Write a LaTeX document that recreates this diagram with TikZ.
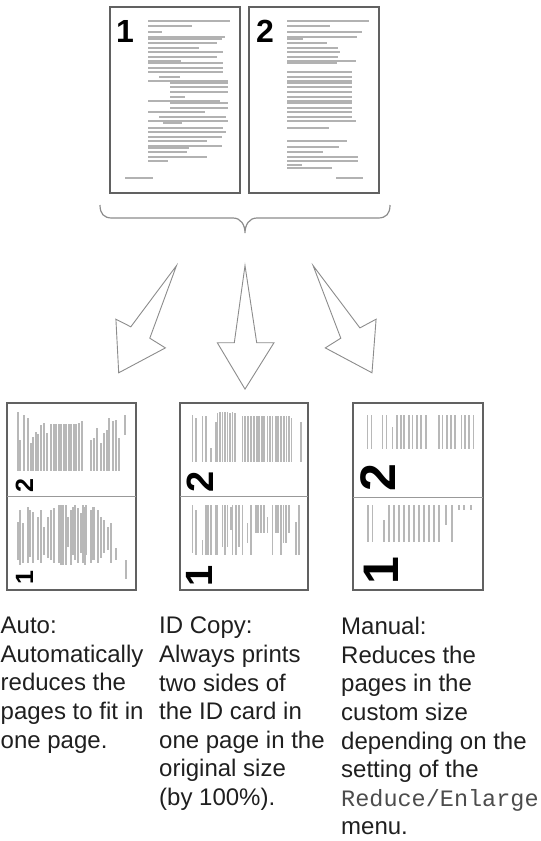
\documentclass[tikz,border=0pt]{standalone}
\usepackage{fontspec}
\setmainfont{Liberation Sans}
\setmonofont{Liberation Mono}
\begin{document}
\begin{tikzpicture}[
  x=1pt,y=-1pt,
  sheet/.style={draw=black!62,line width=1.8pt,fill=white},
  txtline/.style={black!30,line width=1.4pt},
  bar/.style={fill=black!28},
  flow/.style={draw=black!45,line width=0.9pt,fill=white,line join=miter},
  brace/.style={draw=black!45,line width=1.2pt},
  digit/.style={inner sep=0pt,anchor=base west,font=\bfseries},
  caption/.style={inner sep=0pt,anchor=north west,align=left,text=black!88,
    font=\fontsize{24}{28.6}\selectfont}
]
  \useasboundingbox (0,0) rectangle (541,841);

  % the two originals
  \draw[sheet] (110,7) rectangle (240,193);
  \draw[sheet] (249,7) rectangle (379,193);
  \node[digit,font=\fontsize{32}{32}\bfseries\selectfont] (one) at (116,42) {1};
  \node[digit,font=\fontsize{32}{32}\bfseries\selectfont] (two) at (256,42) {2};
  \foreach \y/\a/\b in {21/148/230,26/148/192,32/148/162,37/148/225,39/148/222,
    43/148/217,48/148/199,52/148/223,57/148/217,61/148/181,63/148/223,68/148/223,
    72/148/223,77/159/180,81/148/228,83/170/228,87/170/228,92/170/228,97/170/185,
    101/148/220,103/170/228,108/170/228,112/148/205,117/159/226,121/148/228,
    123/163/182,128/148/223,132/148/226,137/148/222,141/148/207,146/148/222,
    148/148/189,152/148/187,157/148/207,161/148/168,178/125/153}
    \draw[txtline] (\a,\y) -- (\b,\y);
  \foreach \y/\a/\b in {21/287/369,26/287/330,32/287/362,37/287/357,39/287/303,
    43/287/327,48/287/338,52/287/340,57/287/338,61/287/356,63/287/337,72/287/352,
    77/287/352,81/287/352,83/287/352,87/287/352,92/287/352,97/287/352,101/287/352,
    103/287/352,108/287/352,112/287/352,117/287/352,121/287/356,128/287/329,
    141/287/347,147/287/339,152/287/323,157/287/358,161/287/358,165/287/302,
    168/287/332,178/336/363}
    \draw[txtline] (\a,\y) -- (\b,\y);

  % brace under both pages
  \draw[brace] (100,205) .. controls (100,214) and (104,218) .. (112,218)
    -- (233,218) .. controls (241,218) and (245,225) .. (245,233)
    .. controls (245,225) and (249,218) .. (257,218)
    -- (378,218) .. controls (386,218) and (390,214) .. (390,205);

  % three hollow arrows
  \draw[flow] (176.5,265.6) -- (130.8,326.8) -- (115.9,319.2) -- (118.7,372.8)
    -- (165.4,347.9) -- (149.8,338.2) -- cycle;
  \draw[flow] (245,265.6) -- (234.3,342.7) -- (217.3,342.7) -- (245,389.1)
    -- (274,342.7) -- (256.7,342.7) -- cycle;
  \draw[flow] (313.1,265.6) -- (359.9,327.9) -- (376.1,319.2) -- (372,372.8)
    -- (325.3,347.9) -- (340.8,338.2) -- cycle;

  % Auto
  \draw[sheet,line width=1.5pt] (7,403) rectangle (136,590);
  \draw[black!40,line width=1pt] (7,496) -- (136,496);
  \foreach \x/\t/\b in {17/412/471,19/440/471,23/415/471,27/418/471,30/443/471,
    32/437/471,35/432/471,37/434/471,40/425/471,43/423/471,46/433/471,50/424/471,
    52.5/424/471,55/424/471,57.5/424/471,60/424/471,62.5/424/471,65/424/471,
    67.5/424/471,70/424/471,72.5/424/471,75/424/471,78/423/471,81/421/471,
    90/440/471,93/438/471,96/428/471,100/443/471,103/433/471,106/430/471,
    108/418/471,112/421/471,115/420/471,118/438/471,124/415/435}
    \fill[bar] (\x,\t) rectangle ({\x+2.2},\b);
  \foreach \x/\t/\b in {17/522/560,19/510/565,22/523/563,27/507/563,29/510/557,
    32/512/563,37/517/560,40/510/563,43/527/555,47/517/558,50/510/560,53/508/563,
    58/505/563,60/505/565,62/505/565,65/505/565,67/517/547,70/510/565,72/507/555,
    73.5/505/560,77/508/563,80/513/553,82/505/563,84/507/565,85/505/555,
    90/510/563,92/507/560,93/507/560,97/510/563,100/517/558,103/520/553,
    107/527/550,110/523/563,115/548/560,125/560/579}
    \fill[bar] (\x,\t) rectangle ({\x+2.2},\b);
  \node[digit,rotate=90,font=\fontsize{25}{25}\bfseries\selectfont] (a2) at (33,493) {2};
  \node[digit,rotate=90,font=\fontsize{25}{25}\bfseries\selectfont] (a1) at (33,585) {1};

  % ID Copy
  \draw[sheet,line width=1.5pt] (180,403) rectangle (308,590);
  \draw[black!40,line width=1pt] (180,496) -- (308,496);
  \foreach \x/\t in {191.7/415,195/418,201.7/416,205/416,210/448,215/422,
    216.7/413,219/412,221.7/412,224.3/412,226.7/412,229.3/413,231.7/412,234.3/413,
    241.7/416,244/416,247.3/416,250/416,253.3/416,256/416,258.3/416,261/416,
    263.3/416,266.7/416,269.3/416,271.7/416,275/416,277.3/416,280/416,283.3/416,
    285.7/416,288.3/416,290.7/418,300/422}
    \fill[bar] (\x,\t) rectangle ({\x+1.7},462);
  \foreach \x/\t/\b in {191.7/505/553,195/510/555,201.7/540/555,205/505/555,
    207.3/505/555,210/505/555,215/505/555,216.7/505/555,221.7/505/547,224.3/505/555,
    226.7/505/547,230/507/530,231.7/505/555,235/505/555,238.3/505/547,241.7/505/555,
    246.7/523/543,250/505/555,255/505/533,257.3/505/533,260/505/533,263.3/505/533,
    266.7/517/533,271.7/505/555,275/505/533,277.3/505/533,280/505/555,
    282.7/505/543,285/505/543,288.3/505/533,295/522/555,298.3/505/555}
    \fill[bar] (\x,\t) rectangle ({\x+1.7},\b);
  \node[digit,rotate=90,font=\fontsize{38}{38}\bfseries\selectfont] (b2) at (213,493) {2};
  \node[digit,rotate=90,font=\fontsize{38}{38}\bfseries\selectfont] (b1) at (212,587) {1};

  % Manual
  \draw[sheet,line width=1.5pt] (353,403) rectangle (483,590);
  \draw[black!40,line width=1pt] (353,497) -- (483,497);
  \foreach \x/\t in {366.7/415,370.7/415,381.7/415,385.7/415,391.7/427,396/415,
    400/415,403.3/415,408.3/415,411.7/415,416/415,420/415,425/415,438.3/415,
    441.7/415,446/415,450/415,454/415,460.7/415,464/415,468.3/415,472.7/415}
    \fill[bar] (\x,\t) rectangle ({\x+1.5},449);
  \foreach \x/\t/\b in {367.3/505/542,371.7/505/542,383.3/520/542,388.3/505/542,
    393.3/505/542,398.3/505/542,403.3/505/542,408.3/505/542,413.3/505/542,
    418.3/505/542,423.3/505/542,428.3/505/542,433.3/505/542,438.3/505/542,
    445/505/525,451/505/542,458.3/505/510,463.3/505/510,470/505/510}
    \fill[bar] (\x,\t) rectangle ({\x+1.5},\b);
  \node[digit,rotate=90,font=\fontsize{50}{50}\bfseries\selectfont] (c2) at (395,492) {2};
  \node[digit,rotate=90,font=\fontsize{50}{50}\bfseries\selectfont] (c1) at (398,585) {1};

  % captions
  \node[caption] (auto) at (0.5,617) {Auto:\\Automatically\\reduces the\\pages to fit in\\one page.};
  \node[caption] (idcopy) at (159,617) {ID Copy:\\Always prints\\two sides of\\the ID card in\\one page in the\\original size\\(by 100\%).};
  \node[caption] (manual) at (341,617) {Manual:\\Reduces the\\pages in the\\custom size\\depending on the\\setting of the\\{\color{black!70}\fontsize{23.5}{28.6}\ttfamily\selectfont Reduce/Enlarge}\\menu.};
\end{tikzpicture}
\end{document}
